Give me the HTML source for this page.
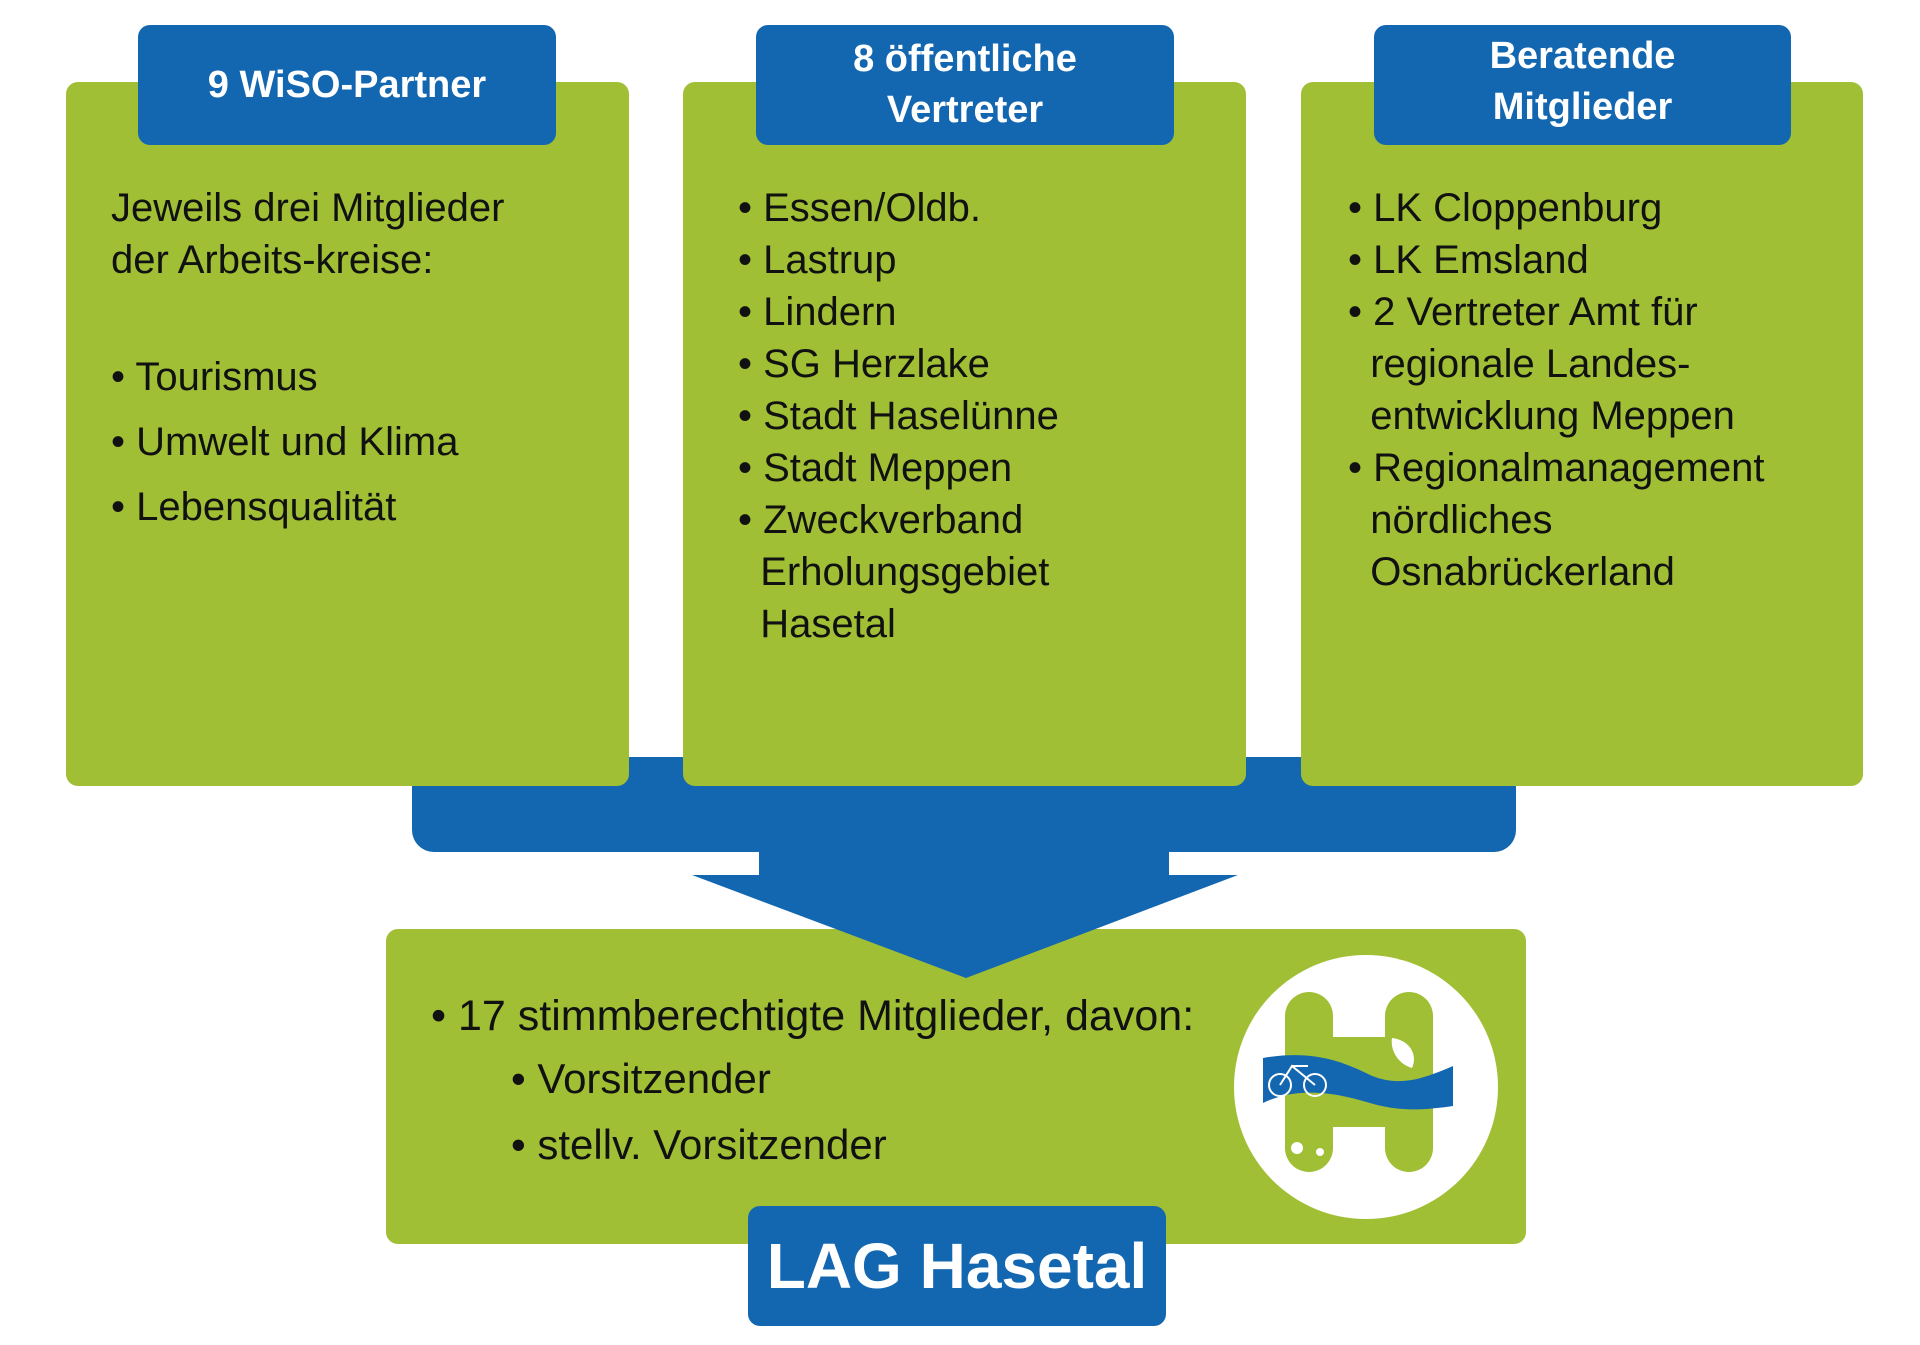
<!DOCTYPE html>
<html><head><meta charset="utf-8"><style>
body{margin:0;width:1920px;height:1345px;background:#fff;position:relative;overflow:hidden;font-family:"Liberation Sans",sans-serif}
.g{position:absolute;background:#a0bf35;border-radius:12px}
.b{position:absolute;background:#1366b0;border-radius:12px}
.h{position:absolute;color:#fff;font-weight:bold;font-size:38px;line-height:51px;text-align:center;display:flex;flex-direction:column;justify-content:center}
.t{position:absolute;font-size:40px;line-height:52px;color:#111;white-space:nowrap}
</style></head><body>
<div class="b" style="left:412px;top:757px;width:1104px;height:95px;border-radius:0 0 22px 22px"></div>
<div class="b" style="left:759px;top:840px;width:410px;height:40px;border-radius:0"></div>
<div class="g" style="left:66px;top:82px;width:563px;height:704px"></div>
<div class="g" style="left:683px;top:82px;width:563px;height:704px"></div>
<div class="g" style="left:1301px;top:82px;width:562px;height:704px"></div>
<div class="b h" style="left:138px;top:25px;width:418px;height:120px">9 WiSO-Partner</div>
<div class="b h" style="left:756px;top:25px;width:418px;height:120px">8 öffentliche<br>Vertreter</div>
<div class="b h" style="left:1374px;top:25px;width:417px;height:120px;justify-content:flex-start;padding-top:6px;box-sizing:border-box">Beratende<br>Mitglieder</div>

<div class="t" style="left:111px;top:182px">Jeweils drei Mitglieder<br>der Arbeits-kreise:</div>
<div class="t" style="left:111px;top:345px;line-height:65px">• Tourismus<br>• Umwelt und Klima<br>• Lebensqualität</div>

<div class="t" style="left:738px;top:182px">• Essen/Oldb.<br>• Lastrup<br>• Lindern<br>• SG Herzlake<br>• Stadt Haselünne<br>• Stadt Meppen<br>• Zweckverband<br>&nbsp;&nbsp;Erholungsgebiet<br>&nbsp;&nbsp;Hasetal</div>

<div class="t" style="left:1348px;top:182px">• LK Cloppenburg<br>• LK Emsland<br>• 2 Vertreter Amt für<br>&nbsp;&nbsp;regionale Landes-<br>&nbsp;&nbsp;entwicklung Meppen<br>• Regionalmanagement<br>&nbsp;&nbsp;nördliches<br>&nbsp;&nbsp;Osnabrückerland</div>

<div class="g" style="left:386px;top:929px;width:1140px;height:315px"></div>
<svg style="position:absolute;left:0;top:0" width="1920" height="1345"><polygon points="692,875 1238,875 966,978" fill="#1366b0"/>
<circle cx="1366" cy="1087" r="132" fill="#fff"/>
<path d="M1285,1016 a24,24 0 0 1 48,0 V1037 H1385 V1016 a24,24 0 0 1 48,0 V1148 a24,24 0 0 1 -48,0 V1127 H1333 V1148 a24,24 0 0 1 -48,0 Z" fill="#a0bf35"/>
<path d="M1263,1058 C1310,1050 1340,1060 1370,1075 C1400,1088 1425,1078 1453,1066 V1106 C1425,1110 1400,1112 1370,1103 C1340,1094 1300,1085 1263,1103 Z" fill="#1366b0"/>
<circle cx="1280" cy="1085" r="11" fill="none" stroke="#fff" stroke-width="2"/><circle cx="1315" cy="1085" r="11" fill="none" stroke="#fff" stroke-width="2"/>
<path d="M1280,1085 L1292,1066 L1315,1085 M1292,1066 L1308,1066" stroke="#fff" stroke-width="2" fill="none"/>
<path d="M1392,1038 C1410,1040 1418,1055 1412,1068 C1398,1064 1390,1050 1392,1038 Z" fill="#fff"/>
<circle cx="1297" cy="1148" r="6" fill="#fff"/><circle cx="1320" cy="1152" r="4" fill="#fff"/>
</svg>
<div class="t" style="left:431px;top:990px;font-size:43px">• 17 stimmberechtigte Mitglieder, davon:</div>
<div class="t" style="left:511px;top:1046px;line-height:66px;font-size:42px">• Vorsitzender<br>• stellv. Vorsitzender</div>
<div class="b" style="left:748px;top:1206px;width:418px;height:120px;color:#fff;font-weight:bold;font-size:64px;line-height:120px;text-align:center">LAG Hasetal</div>
</body></html>
